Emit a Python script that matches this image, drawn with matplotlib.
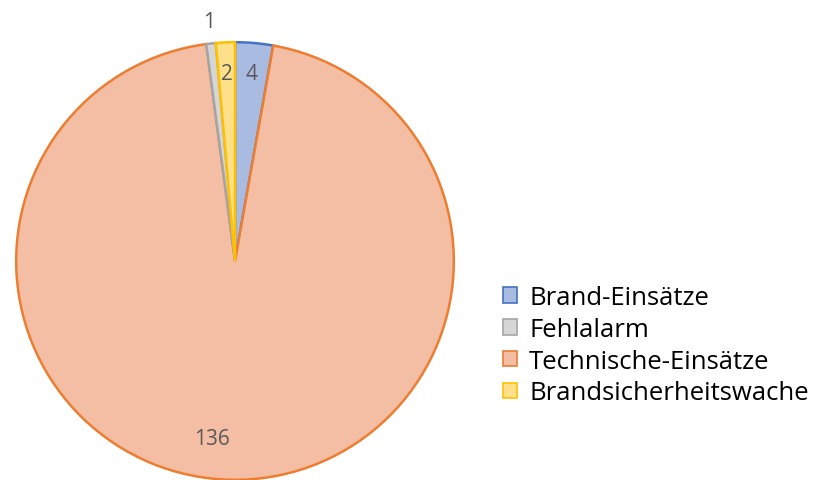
import numpy as np
import matplotlib
matplotlib.use('Agg')
import matplotlib.pyplot as plt
from matplotlib.patches import Patch

# Daten
categories = ['Brand-Einsätze', 'Fehlalarm', 'Technische-Einsätze', 'Brandsicherheitswache']
values = [4, 1, 136, 2]
fills = ['#a9bbe0', '#d6d6d6', '#f3bea3', '#ffe08a']
edges = ['#4472c4', '#a5a5a5', '#ed7d31', '#ffc000']
# Reihenfolge der Segmente im Uhrzeigersinn (wie im Original)
order = [0, 2, 1, 3]
label_r = [0.86, 1.10, 0.82, 0.86]

plt.rcParams['font.family'] = ['Open Sans', 'DejaVu Sans']

fig = plt.figure(figsize=(8.28, 4.81), dpi=100)
ax = fig.add_axes([14 / 828, -2 / 481, 442 / 828, 442 / 481])

wedges, _ = ax.pie([values[i] for i in order],
                   colors=[fills[i] for i in order],
                   startangle=90, counterclock=False,
                   wedgeprops=dict(linewidth=1.8))
for w, i in zip(wedges, order):
    w.set_edgecolor(edges[i])
    mid = np.deg2rad((w.theta1 + w.theta2) / 2)
    r = label_r[i]
    if i == 2:
        mid -= np.deg2rad(6)
    ax.text(r * np.cos(mid), r * np.sin(mid), str(values[i]),
            ha='center', va='center', fontsize=15, color='#595959')

ax.set_xlim(-1.01, 1.01)
ax.set_ylim(-1.01, 1.01)
ax.set_aspect('equal')

handles = [Patch(facecolor=fills[i], edgecolor=edges[i], linewidth=1.2) for i in range(4)]
fig.legend(handles, categories, loc='center left', bbox_to_anchor=(0.58, 0.28),
           frameon=False, fontsize=18.5, handlelength=0.55, handleheight=0.55,
           handletextpad=0.45, labelspacing=0.26)

fig.savefig('out.png', dpi=100)
